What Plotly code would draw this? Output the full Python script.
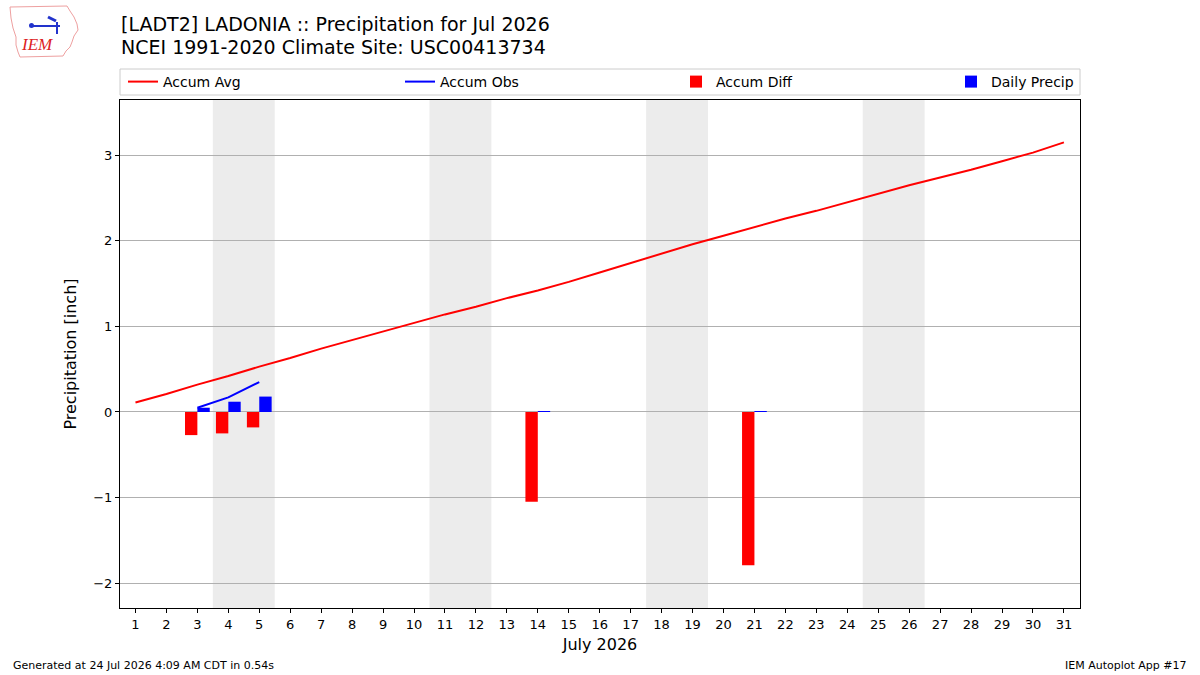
import datetime
import plotly.graph_objects as go

# ---------------- data ----------------
days = list(range(1, 32))
accum_avg = [0.11, 0.21, 0.32, 0.42, 0.53, 0.63, 0.74, 0.84, 0.94, 1.04,
             1.14, 1.23, 1.33, 1.42, 1.52, 1.63, 1.74, 1.85, 1.96, 2.06,
             2.16, 2.26, 2.35, 2.45, 2.55, 2.65, 2.74, 2.83, 2.93, 3.03, 3.15]
obs_days = [3, 4, 5, 14, 21]
daily_precip = [0.05, 0.12, 0.18, 0.01, 0.01]
accum_obs = [0.05, 0.17, 0.35, 0.36, 0.37]
accum_diff = [-0.27, -0.25, -0.18, -1.05, -1.79]
year, month = 2026, 7

title_line1 = "[LADT2] LADONIA :: Precipitation for Jul 2026"
title_line2 = "NCEI 1991-2020 Climate Site: USC00413734"
footer_left = "Generated at 24 Jul 2026 4:09 AM CDT in 0.54s"
footer_right = "IEM Autoplot App #17"

# ---------------- layout helpers ----------------
W, H = 1200, 675
L, R, T, B = 120, 1080, 100, 608
FONT = "DejaVu Sans"


def px(x):
    return (x - L) / (R - L)


def py(y):
    return (B - y) / (B - T)


fig = go.Figure()

# accumulated observed line: only consecutive observed days are joined
obs_line_x, obs_line_y = [], []
prev = None
for d, v in zip(obs_days, accum_obs):
    if prev is not None and d != prev + 1:
        obs_line_x.append(None)
        obs_line_y.append(None)
    obs_line_x.append(d)
    obs_line_y.append(v)
    prev = d

fig.add_trace(go.Scatter(x=days, y=accum_avg, mode="lines", name="Accum Avg",
                         line=dict(color="red", width=2), legend="legend"))
fig.add_trace(go.Scatter(x=obs_line_x, y=obs_line_y, mode="lines", name="Accum Obs",
                         line=dict(color="blue", width=2), connectgaps=False,
                         legend="legend2"))
fig.add_trace(go.Bar(x=obs_days, y=accum_diff, name="Accum Diff", offset=-0.4,
                     width=0.4, marker=dict(color="red", line=dict(width=0)),
                     legend="legend3"))
fig.add_trace(go.Bar(x=obs_days, y=daily_precip, name="Daily Precip", offset=0.0,
                     width=0.4, marker=dict(color="blue", line=dict(width=0)),
                     legend="legend4"))

# weekend shading (consecutive weekend days merged into one band)
shapes = []
weekend = [d for d in days if datetime.date(year, month, d).weekday() >= 5]
bands = []
for d in weekend:
    if bands and bands[-1][1] == d - 1:
        bands[-1][1] = d
    else:
        bands.append([d, d])
for a, b in bands:
    shapes.append(dict(type="rect", xref="x", yref="paper", x0=a - 0.5, x1=b + 0.5,
                       y0=0, y1=1, fillcolor="#ececec", line=dict(width=0),
                       layer="below"))

# legend frame
shapes.append(dict(type="rect", xref="paper", yref="paper", x0=px(120), x1=px(1080),
                   y0=py(95), y1=py(69), line=dict(color="#cccccc", width=1),
                   fillcolor="rgba(255,255,255,0.8)", layer="above"))

# rough IEM logo (Iowa outline + vane)
iowa = [(10, 7), (67, 6), (70, 11), (74, 17), (77, 24), (78, 30), (74, 36), (72, 42),
        (70, 47), (66, 51), (63, 56), (20, 57), (18, 52), (16, 45), (16, 37), (13, 28),
        (11, 18), (10, 7)]
path = "M" + " L".join(f"{px(x)},{py(y)}" for x, y in iowa) + " Z"
shapes.append(dict(type="path", xref="paper", yref="paper", path=path,
                   line=dict(color="#eea0a0", width=1)))
shapes.append(dict(type="line", xref="paper", yref="paper", x0=px(32), y0=py(26),
                   x1=px(60), y1=py(26), line=dict(color="#2233cc", width=2)))
shapes.append(dict(type="line", xref="paper", yref="paper", x0=px(57), y0=py(22),
                   x1=px(57), y1=py(34), line=dict(color="#2233cc", width=2)))
shapes.append(dict(type="line", xref="paper", yref="paper", x0=px(48), y0=py(17),
                   x1=px(56), y1=py(21), line=dict(color="#2233cc", width=3)))
shapes.append(dict(type="circle", xref="paper", yref="paper", x0=px(29), y0=py(23),
                   x1=px(34), y1=py(28), fillcolor="#2233cc", line=dict(width=0)))

annotations = [
    dict(text="<i>IEM</i>", xref="paper", yref="paper", x=px(37), y=py(45), showarrow=False,
         font=dict(family="Liberation Serif", size=17, color="#dd2222"),
         xanchor="center", yanchor="middle"),
    dict(text=title_line1, xref="paper", yref="paper", x=px(119), y=py(24),
         showarrow=False, xanchor="left", yanchor="middle",
         font=dict(family=FONT, size=19, color="black")),
    dict(text=title_line2, xref="paper", yref="paper", x=px(119), y=py(47),
         showarrow=False, xanchor="left", yanchor="middle",
         font=dict(family=FONT, size=19, color="black")),
    dict(text=footer_left, xref="paper", yref="paper", x=px(11), y=py(665),
         showarrow=False, xanchor="left", yanchor="middle",
         font=dict(family=FONT, size=11, color="black")),
    dict(text=footer_right, xref="paper", yref="paper", x=px(1189), y=py(665),
         showarrow=False, xanchor="right", yanchor="middle",
         font=dict(family=FONT, size=11, color="black")),
]

leg_common = dict(orientation="h", yanchor="middle", xanchor="left",
                  bgcolor="rgba(0,0,0,0)", borderwidth=0,
                  font=dict(family=FONT, size=14, color="black"))
ly = py(82)

fig.update_layout(
    width=W, height=H,
    margin=dict(l=L, r=W - R, t=T, b=H - B, pad=0),
    paper_bgcolor="white", plot_bgcolor="white",
    barmode="overlay",
    font=dict(family=FONT, size=13, color="black"),
    showlegend=True,
    legend=dict(x=px(123), y=ly, **leg_common),
    legend2=dict(x=px(400), y=ly, **leg_common),
    legend3=dict(x=px(676), y=ly, **leg_common),
    legend4=dict(x=px(951), y=ly, **leg_common),
    shapes=shapes,
    annotations=annotations,
    xaxis=dict(range=[0.5, 31.52], tickmode="array", tickvals=days,
               ticktext=[str(d) for d in days], ticks="outside", ticklen=4,
               tickcolor="black", showgrid=False, zeroline=False,
               showline=True, linecolor="black", linewidth=1, mirror=True,
               tickfont=dict(family=FONT, size=13),
               title=dict(text="July 2026", font=dict(family=FONT, size=16), standoff=8)),
    yaxis=dict(range=[-2.29, 3.645], tickmode="array", tickvals=[-2, -1, 0, 1, 2, 3],
               ticks="outside", ticklen=4, tickcolor="black",
               showgrid=True, gridcolor="#b0b0b0", gridwidth=1, zeroline=False,
               showline=True, linecolor="black", linewidth=1, mirror=True,
               tickfont=dict(family=FONT, size=13),
               title=dict(text="Precipitation [inch]", font=dict(family=FONT, size=16),
                          standoff=12)),
)

fig.write_html("out.html")
